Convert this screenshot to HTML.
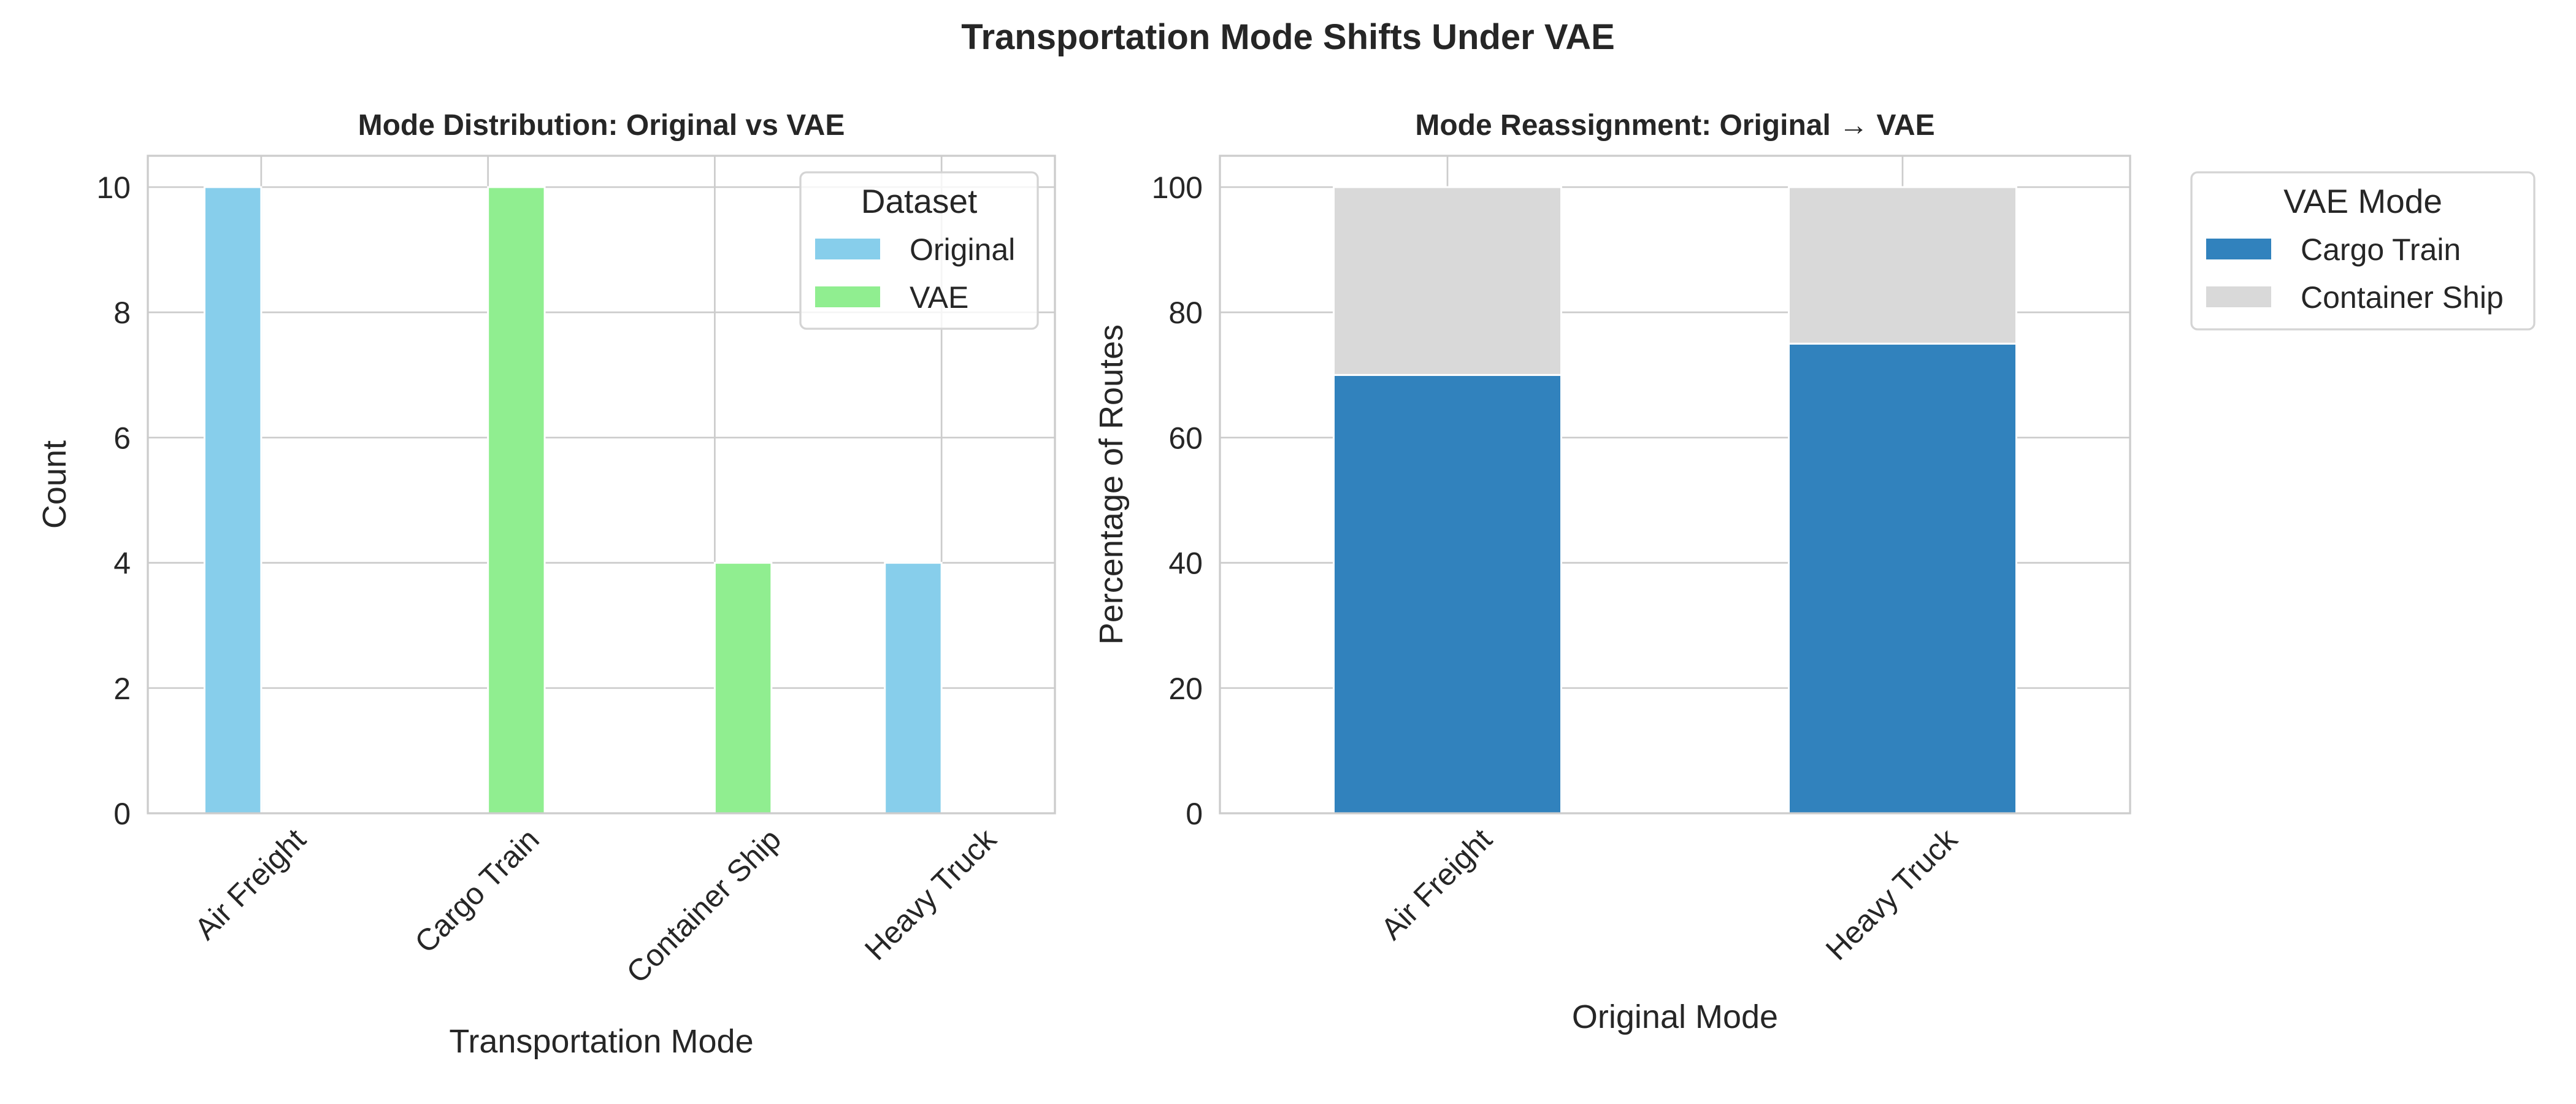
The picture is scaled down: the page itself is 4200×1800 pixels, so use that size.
<!DOCTYPE html>
<html><head><meta charset="utf-8"><style>
html,body{margin:0;padding:0;background:#fff;}
svg{display:block;font-family:"Liberation Sans",Arial,sans-serif;}
</style></head><body>
<svg id="chart" width="4200" height="1800" viewBox="0 0 4200 1800" xmlns="http://www.w3.org/2000/svg">
<rect width="4200" height="1800" fill="#fff"/>
<text x="2100" y="80" text-anchor="middle" font-size="58" font-weight="bold" fill="#262626">Transportation Mode Shifts Under VAE</text>
<g id="left"></g>
<g id="right"></g>
</svg>
<script>
const leftCategories = ["Air Freight","Cargo Train","Container Ship","Heavy Truck"];
const originalCounts = [10,0,0,4];
const vaeCounts = [0,10,4,0];
const leftTicks = [0,2,4,6,8,10];
const rightCategories = ["Air Freight","Heavy Truck"];
const cargoTrainPct = [70,75];
const containerShipPct = [30,25];
const rightTicks = [0,20,40,60,80,100];

const NS="http://www.w3.org/2000/svg";
function mk(parent,tag,attrs,text){const e=document.createElementNS(NS,tag);for(const k in attrs)e.setAttribute(k,attrs[k]);if(text!==undefined)e.textContent=text;parent.appendChild(e);return e;}

function axes(g,L,R,T,B,xmin,xmax,ymax,cats,ticks){
  const sx=v=>L+(v-xmin)/(xmax-xmin)*(R-L);
  const sy=v=>B-v/ymax*(B-T);
  ticks.forEach(t=>{
    const l=mk(g,'line',{x1:L,x2:R,y1:sy(t),y2:sy(t),stroke:'#cccccc','stroke-width':2.7});
    
    
    const tx=mk(g,'text',{x:L-28,y:sy(t)+18,'text-anchor':'end','font-size':50,fill:'#262626'},String(t));
    
    
  });
  cats.forEach((c,i)=>{
    const l=mk(g,'line',{x1:sx(i),x2:sx(i),y1:T,y2:B,stroke:'#cccccc','stroke-width':2.7});
    
    
  });
  return {sx,sy};
}
function finish(g,L,R,T,B,cats,sx,title,xlabel,ylabel,ylabelX,xlabelY){
  const f=mk(g,'rect',{x:L,y:T,width:R-L,height:B-T,fill:'none',stroke:'#cccccc','stroke-width':3.3});
  
  
  cats.forEach((c,i)=>{
    const t=mk(g,'text',{'font-size':50,fill:'#262626','text-anchor':'end'},c);
    
    
    const len=t.getComputedTextLength();
    const d=len*0.7071;
    const ex=sx(i)+d/2-6, ey=B+28+18;
    t.setAttribute('x',ex);t.setAttribute('y',ey);
    t.setAttribute('transform',`rotate(-45 ${ex} ${ey})`);
  });
  const tt=mk(g,'text',{x:(L+R)/2,y:T-34,'text-anchor':'middle','font-size':48,'font-weight':'bold',fill:'#262626'},title);
  
  
  const xl=mk(g,'text',{x:(L+R)/2,y:xlabelY,'text-anchor':'middle','font-size':54,fill:'#262626'},xlabel);
  
  
  const cy=(T+B)/2;
  const yl=mk(g,'text',{x:ylabelX,y:cy,'text-anchor':'middle','font-size':54,fill:'#262626',transform:`rotate(-90 ${ylabelX} ${cy})`},ylabel);
  
  
}
function legend(g,x,y,w,h,title,items,nameBase){
  const lg=mk(g,'g',{});
  
  
  mk(lg,'rect',{x:x,y:y,width:w,height:h,rx:10,fill:'#fff','fill-opacity':0.8,stroke:'#d4d4d4','stroke-width':3.3});
  const t=mk(lg,'text',{x:x+w/2,y:y+66,'text-anchor':'middle','font-size':55,fill:'#262626'},title);
  
  
  items.forEach((it,i)=>{
    const py=y+108+i*78;
    const r=mk(lg,'rect',{x:x+24,y:py,width:106,height:34,fill:it.c});
    
    
    const tx=mk(lg,'text',{x:x+178,y:py+35,'font-size':50,fill:'#262626'},it.n);
    
    
  });
}

(function(){
  const g=document.getElementById('left');
  const L=241,R=1720,T=254,B=1326;
  const {sx,sy}=axes(g,L,R,T,B,-0.5,3.5,10.5,leftCategories,leftTicks);
  leftCategories.forEach((c,i)=>{
    const a=mk(g,'rect',{x:sx(i-0.25),y:sy(originalCounts[i]),width:sx(0.25)-sx(0),height:sy(0)-sy(originalCounts[i]),fill:'#87ceeb',stroke:'#fff','stroke-width':3});
    
    
    const b=mk(g,'rect',{x:sx(i),y:sy(vaeCounts[i]),width:sx(0.25)-sx(0),height:sy(0)-sy(vaeCounts[i]),fill:'#90ee90',stroke:'#fff','stroke-width':3});
    
    
  });
  finish(g,L,R,T,B,leftCategories,sx,'Mode Distribution: Original vs VAE','Transportation Mode','Count',107,1716);
  legend(g,1305,281,387,255,'Dataset',[{n:'Original',c:'#87ceeb'},{n:'VAE',c:'#90ee90'}],'dataset-legend');
})();

(function(){
  const g=document.getElementById('right');
  const L=1989,R=3473,T=254,B=1326;
  const {sx,sy}=axes(g,L,R,T,B,-0.5,1.5,105,rightCategories,rightTicks);
  rightCategories.forEach((c,i)=>{
    const w=sx(0.5)-sx(0);
    const a=mk(g,'rect',{x:sx(i-0.25),y:sy(cargoTrainPct[i]),width:w,height:sy(0)-sy(cargoTrainPct[i]),fill:'#3182bd',stroke:'#fff','stroke-width':3});
    
    
    const top=cargoTrainPct[i]+containerShipPct[i];
    const b=mk(g,'rect',{x:sx(i-0.25),y:sy(top),width:w,height:sy(cargoTrainPct[i])-sy(top),fill:'#d9d9d9',stroke:'#fff','stroke-width':3});
    
    
  });
  finish(g,L,R,T,B,rightCategories,sx,'Mode Reassignment: Original \u2192 VAE','Original Mode','Percentage of Routes',1830,1676);
  legend(g,3573,281,559,256,'VAE Mode',[{n:'Cargo Train',c:'#3182bd'},{n:'Container Ship',c:'#d9d9d9'}],'vae-mode-legend');
})();
</script>
</body></html>
